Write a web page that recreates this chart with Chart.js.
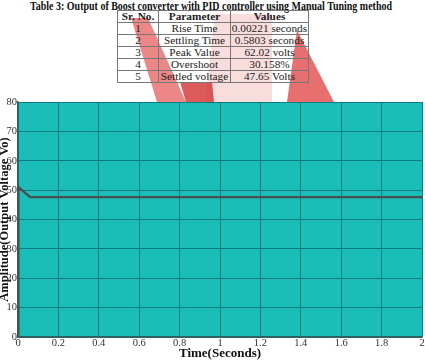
<!DOCTYPE html>
<html><head><meta charset="utf-8">
<script src="https://cdn.jsdelivr.net/npm/chart.js@4"></script>
<style>
html,body{margin:0;padding:0;background:#fff;}
#wrap{position:relative;width:425px;height:361px;overflow:hidden;font-family:"Liberation Serif","Times New Roman",serif;}
#wm{position:absolute;left:0;top:0;width:425px;height:361px;}
#title{position:absolute;left:30px;top:-2px;font-weight:bold;font-size:12px;color:#111;white-space:nowrap;transform-origin:0 0;}
table{position:absolute;left:117px;top:10px;border-collapse:collapse;table-layout:fixed;font-size:11.3px;color:#222;}
td,th{border:1px solid #777;padding:0;height:11px;line-height:11px;text-align:center;white-space:nowrap;overflow:hidden;}
th{font-weight:bold;}
canvas{position:absolute;left:0;top:0;}
</style></head><body>
<div id="wrap">
<svg id="wm" viewBox="0 0 425 361">
<polygon points="215,14 272,14 272,102 205,102" fill="rgb(246,205,205)" opacity="0.7"/>
<polygon points="131,18 148,18 186,102 157,102" fill="rgb(228,95,95)" opacity="0.75"/>
<polygon points="180,82 212,82 214,102 186,102" fill="rgb(210,50,50)" opacity="0.8"/>
<polygon points="297,30 334,102 287,102" fill="rgb(225,75,75)" opacity="0.8"/>
</svg>
<div id="title">Table 3: Output of Boost converter with PID controller using Manual Tuning method</div>
<table id="tbl"></table>
<canvas id="c" width="425" height="361"></canvas>
</div>
<script>
const tableHeaders = ["Sr. No.", "Parameter", "Values"];
const srNo = ["1", "2", "3", "4", "5"];
const parameters = ["Rise Time", "Settling Time", "Peak Value", "Overshoot", "Settled voltage"];
const values = ["0.00221 seconds", "0.5803 seconds", "62.02 volts", "30.158%", "47.65 Volts"];

const timeS = [0, 0.0022, 0.06, 0.5803, 2];
const voltage = [0, 51, 47.65, 47.65, 47.65];

const ttl = document.getElementById('title');
const tw = ttl.getBoundingClientRect().width;
ttl.style.transform = `scale(${362/tw}, 1.12)`;

const tbl = document.getElementById('tbl');
const widths = [40, 71, 77];
let h = '<tr>' + tableHeaders.map((t,i)=>`<th style="width:${widths[i]}px">${t}</th>`).join('') + '</tr>';
for (let i=0;i<srNo.length;i++) h += `<tr><td>${srNo[i]}</td><td>${parameters[i]}</td><td>${values[i]}</td></tr>`;
tbl.innerHTML = h;

const fam = '"Liberation Serif","Times New Roman",serif';
const tickFont = {family: fam, size: 10.5};
new Chart(document.getElementById('c'), {
  type: 'scatter',
  data: { datasets: [{
    data: timeS.map((t,i)=>({x:t, y:voltage[i]})),
    showLine: true, borderColor: '#4a4f52', borderWidth: 2.2, pointRadius: 0, tension: 0
  }]},
  plugins: [{
    id: 'bg',
    beforeDraw(chart){
      const a = chart.chartArea, ctx = chart.ctx;
      ctx.save(); ctx.fillStyle = '#1bbdb9'; ctx.fillRect(a.left, a.top, a.right-a.left, a.bottom-a.top); ctx.restore();
    }
  }],
  options: {
    animation: false, responsive: false, devicePixelRatio: 1,
    layout: { padding: { top: 102, left: 0, right: 3, bottom: 0 } },
    plugins: { legend: {display:false}, tooltip: {enabled:false} },
    scales: {
      x: { type: 'linear', min: 0, max: 2,
        ticks: { stepSize: 0.2, font: tickFont, color: '#333', padding: 0, maxRotation: 0,
          callback: v => String(Number(v.toFixed(1))) },
        grid: { color: '#0b7c7c', lineWidth: 1, drawTicks: false },
        border: { color: '#3a5a5a', width: 1.5 },
        title: { display: true, text: 'Time(Seconds)', font: {family: fam, size: 13, weight: 'bold'}, color: '#111', padding: {top: -2, bottom: 0} },
        afterFit(s){ s.height = 24; }
      },
      y: { min: 0, max: 80,
        ticks: { stepSize: 10, font: tickFont, color: '#333', padding: 1 },
        grid: { color: '#0b7c7c', lineWidth: 1, drawTicks: false },
        border: { color: '#3a5a5a', width: 1.5 },
        title: { display: true, text: 'Amplitude(Output Voltage Vo)', font: {family: fam, size: 12.5, weight: 'bold'}, color: '#111', padding: {top: -3, bottom: 0} },
        afterFit(s){ s.width = 18; }
      }
    }
  }
});
</script>
</body></html>
